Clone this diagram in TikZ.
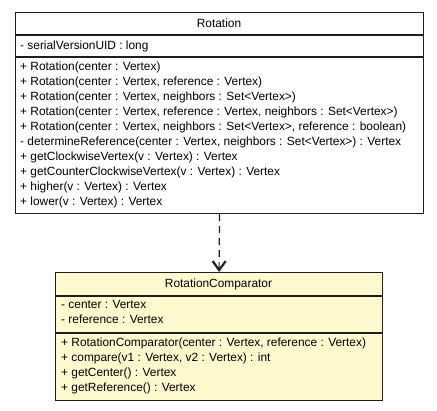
\documentclass[tikz,border=0pt]{standalone}
\usepackage{fontspec}
\setmainfont{Liberation Sans}
\usetikzlibrary{arrows.meta}
\definecolor{classfill}{RGB}{255,249,208}
\definecolor{edge}{RGB}{30,30,30}
\tikzset{
  classbox/.style={draw=edge, line width=1.1pt, inner sep=0pt, anchor=north west},
  sep/.style={draw=edge, line width=1.4pt},
  txt/.style={anchor=west, inner sep=0pt, font=\fontsize{11.9}{13}\selectfont},
  title/.style={inner sep=0pt, font=\fontsize{11.9}{13}\selectfont},
  dep/.style={draw=edge, line width=1.2pt, dash pattern=on 7pt off 5pt,
    -{Straight Barb[length=9pt,width=13pt,line width=2.2pt]}}
}
\begin{document}
\begin{tikzpicture}[x=1pt,y=-1pt]
\useasboundingbox (0,0) rectangle (437,411);
% Rotation
\node[classbox, fill=white, minimum width=408pt, minimum height=201pt] (rot) at (15,12) {};
\draw[sep] (15,35) -- (423,35);
\draw[sep] (15,57) -- (423,57);
\node[title] (rtitle) at (219,23.5) {Rotation};
\node[txt] (ra0) at (20,46) {- serialVersionUID : long};
\node[txt] (rm0) at (20,67) {+ Rotation(center : Vertex)};
\node[txt] (rm1) at (20,82) {+ Rotation(center : Vertex, reference : Vertex)};
\node[txt] (rm2) at (20,97) {+ Rotation(center : Vertex, neighbors : Set<Vertex>)};
\node[txt] (rm3) at (20,112) {+ Rotation(center : Vertex, reference : Vertex, neighbors : Set<Vertex>)};
\node[txt] (rm4) at (20,127) {+ Rotation(center : Vertex, neighbors : Set<Vertex>, reference : boolean)};
\node[txt] (rm5) at (20,142) {- determineReference(center : Vertex, neighbors : Set<Vertex>) : Vertex};
\node[txt] (rm6) at (20,157) {+ getClockwiseVertex(v : Vertex) : Vertex};
\node[txt] (rm7) at (20,172) {+ getCounterClockwiseVertex(v : Vertex) : Vertex};
\node[txt] (rm8) at (20,187) {+ higher(v : Vertex) : Vertex};
\node[txt] (rm9) at (20,202) {+ lower(v : Vertex) : Vertex};
% RotationComparator
\node[classbox, fill=classfill, minimum width=327pt, minimum height=128pt] (rc) at (55,272) {};
\draw[sep] (55,296) -- (382,296);
\draw[sep] (55,333) -- (382,333);
\node[title] (ctitle) at (218.5,284) {RotationComparator};
\node[txt] (ca0) at (61,304) {- center : Vertex};
\node[txt] (ca1) at (61,319) {- reference : Vertex};
\node[txt] (cm0) at (61,343) {+ RotationComparator(center : Vertex, reference : Vertex)};
\node[txt] (cm1) at (61,358) {+ compare(v1 : Vertex, v2 : Vertex) : int};
\node[txt] (cm2) at (61,373) {+ getCenter() : Vertex};
\node[txt] (cm3) at (61,388) {+ getReference() : Vertex};
% dependency
\draw[dep] (rot.south) -- (rc.north);
\end{tikzpicture}
\end{document}
